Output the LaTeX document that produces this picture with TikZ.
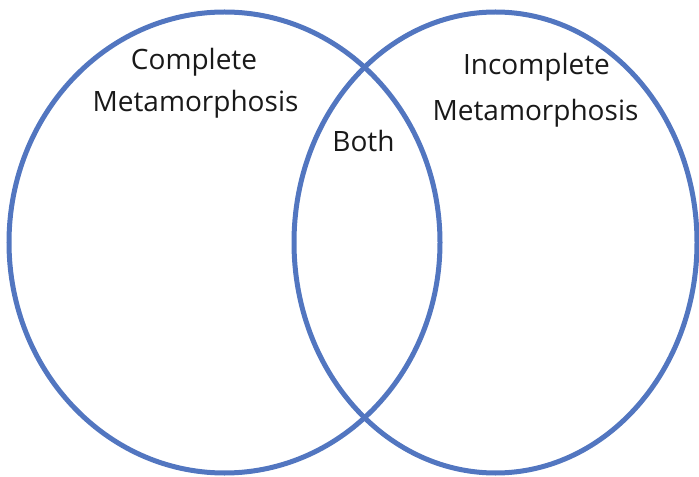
\documentclass[tikz,border=0pt]{standalone}
\usepackage{fontspec}
\setmainfont{Open Sans}
\usetikzlibrary{positioning}

\definecolor{vennblue}{RGB}{82,118,192}

\begin{document}
\begin{tikzpicture}[
        x = 0.75pt, y = -0.75pt,
        ring/.style = {draw = vennblue, line width = 3.75pt},
        lbl/.style = {anchor = base, inner sep = 0pt, text = black!90,
                      font = \fontsize{21}{25}\selectfont}
    ]
        \useasboundingbox (0,0) rectangle (699,477);

        % the two sets
        \draw[ring] (224.5,242.5) ellipse [x radius = 215.5, y radius = 230.5];
        \draw[ring] (495.5,242.5) ellipse [x radius = 201.5, y radius = 230.5];

        % labels
        \node[lbl] (complete) at (194,70) {Complete};
        \node[lbl] (metaL) at (195.5,112) {Metamorphosis};
        \node[lbl] (incomplete) at (536.5,75) {Incomplete};
        \node[lbl] (metaR) at (535.5,121) {Metamorphosis};
        \node[lbl] (both) at (363.5,152) {Both};

\end{tikzpicture}
\end{document}
